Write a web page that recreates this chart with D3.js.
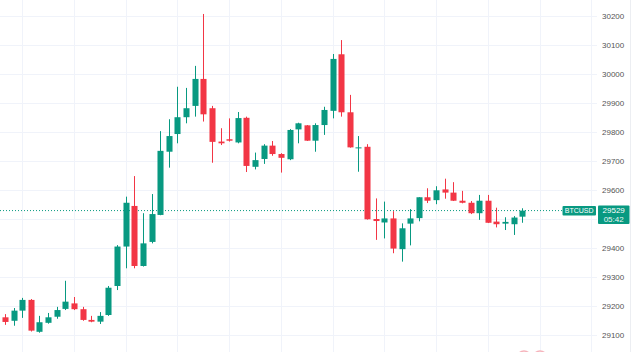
<!DOCTYPE html>
<html><head><meta charset="utf-8">
<script src="https://cdn.jsdelivr.net/npm/d3@7"></script>
<style>html,body{margin:0;padding:0;background:#fff;overflow:hidden}svg{display:block}</style>
</head><body>
<svg id="c" width="639" height="352"></svg>
<script>
const opens  = [29161,29149,29184,29221,29111,29142,29163,29190,29209,29189,29152,29146,29169,29269,29405,29545,29338,29421,29514,29732,29793,29851,29890,29983,29882,29767,29775,29764,29849,29680,29707,29753,29724,29706,29809,29823,29770,29824,29873,30068,29868,29744,29749,29500,29488,29502,29396,29484,29503,29575,29565,29602,29591,29563,29556,29520,29563,29491,29484,29482,29508];
const highs  = [29172,29193,29228,29224,29166,29176,29197,29287,29231,29197,29166,29179,29269,29410,29577,29648,29520,29586,29803,29844,29956,29952,30028,30207,29890,29813,29847,29869,29853,29729,29758,29769,29727,29810,29832,29824,29830,29887,30069,30117,29928,29786,29758,29571,29560,29527,29485,29534,29575,29606,29613,29639,29627,29597,29562,29583,29583,29539,29506,29510,29537];
const lows   = [29135,29132,29159,29112,29108,29139,29156,29186,29186,29149,29144,29138,29166,29255,29330,29330,29336,29416,29513,29677,29761,29830,29853,29836,29694,29755,29767,29761,29662,29671,29690,29718,29660,29703,29761,29769,29732,29790,29847,29853,29746,29663,29498,29428,29433,29382,29353,29409,29492,29555,29551,29570,29562,29554,29517,29497,29486,29471,29462,29445,29487];
const closes = [29145,29184,29221,29115,29144,29161,29186,29215,29189,29152,29146,29166,29263,29405,29556,29338,29416,29517,29735,29786,29851,29882,29983,29861,29766,29761,29770,29848,29683,29703,29753,29724,29711,29807,29830,29770,29824,29876,30052,29868,29747,29747,29499,29493,29502,29398,29468,29502,29575,29563,29599,29591,29563,29556,29520,29563,29487,29482,29490,29505,29529];
const priceTicks = [30200,30100,30000,29900,29800,29700,29600,29500,29400,29300,29200,29100];
const labelTicks = [30200,30100,30000,29900,29800,29700,29600,29400,29300,29200,29100];
const symbol = "BTCUSD";
const lastPrice = 29529;
const countdown = "05:42";

const UP = "#089981", DOWN = "#f23645";
const svg = d3.select("#c");
const n = opens.length;
const x = d3.scaleLinear().domain([0, n - 1]).range([5, 522.3]);
const y = d3.scaleLinear().domain([29100, 30200]).range([335, 16]);
const step = x(1) - x(0);
const bw = step * 0.7;

// grid
const gridIdx = d3.range(2, 70, 6);
svg.append("g").selectAll("line").data(gridIdx).join("line")
  .attr("x1", d => Math.round(x(d)) + 0.5).attr("x2", d => Math.round(x(d)) + 0.5)
  .attr("y1", 0).attr("y2", 352).attr("stroke", "#f0f3fa").attr("stroke-width", 1);
svg.append("g").selectAll("line").data(priceTicks).join("line")
  .attr("x1", 0).attr("x2", 597)
  .attr("y1", d => Math.round(y(d)) + 0.5).attr("y2", d => Math.round(y(d)) + 0.5)
  .attr("stroke", "#f0f3fa").attr("stroke-width", 1);
svg.append("line").attr("x1", 630.5).attr("x2", 630.5).attr("y1", 0).attr("y2", 352)
  .attr("stroke", "#eceef2");

// price line
svg.append("line").attr("x1", 0).attr("x2", 563).attr("y1", y(lastPrice)).attr("y2", y(lastPrice))
  .attr("stroke", UP).attr("stroke-width", 1).attr("stroke-dasharray", "1,2");

// candles
const data = d3.range(n).map(i => ({i, o: opens[i], h: highs[i], l: lows[i], c: closes[i]}));
const g = svg.append("g");
g.selectAll("line").data(data).join("line")
  .attr("x1", d => Math.round(x(d.i)) + 0.5).attr("x2", d => Math.round(x(d.i)) + 0.5)
  .attr("y1", d => y(d.h)).attr("y2", d => y(d.l))
  .attr("stroke", d => d.c >= d.o ? UP : DOWN).attr("stroke-width", 1);
g.selectAll("rect").data(data).join("rect")
  .attr("x", d => Math.round(x(d.i)) + 0.5 - bw / 2)
  .attr("width", bw)
  .attr("y", d => y(Math.max(d.o, d.c)))
  .attr("height", d => Math.max(1, Math.abs(y(d.o) - y(d.c))))
  .attr("fill", d => d.c >= d.o ? UP : DOWN);

// right axis
const axis = d3.axisRight(y).tickValues(labelTicks).tickSize(0).tickPadding(0).tickFormat(d3.format("d"));
const ag = svg.append("g").attr("transform", "translate(602,0)").call(axis);
ag.select(".domain").remove();
ag.selectAll("text").attr("fill", "#555").style("font-family", "Liberation Sans, Arial, sans-serif").style("font-size", "8px");

// labels
const ly = y(lastPrice);
svg.append("rect").attr("x", 562.5).attr("y", ly - 4.5).attr("width", 33.5).attr("height", 9.5).attr("fill", UP).attr("rx", 1);
svg.append("text").attr("x", 579.2).attr("y", ly + 2.8).attr("text-anchor", "middle")
  .attr("fill", "#fff").style("font-family", "Liberation Sans, Arial, sans-serif").style("font-size", "7px").text(symbol);
svg.append("rect").attr("x", 598).attr("y", ly - 5).attr("width", 31.5).attr("height", 18.5).attr("fill", UP).attr("rx", 1);
svg.append("text").attr("x", 613.7).attr("y", ly + 2.6).attr("text-anchor", "middle")
  .attr("fill", "#fff").style("font-family", "Liberation Sans, Arial, sans-serif").style("font-size", "8px").text(d3.format("d")(lastPrice));
svg.append("text").attr("x", 613.7).attr("y", ly + 11.2).attr("text-anchor", "middle")
  .attr("fill", "#e8f6f2").style("font-family", "Liberation Sans, Arial, sans-serif").style("font-size", "8px").text(countdown);

// faint logo at bottom
svg.append("circle").attr("cx", 524).attr("cy", 358).attr("r", 7).attr("fill", "none").attr("stroke", "#f6b3bb").attr("stroke-width", 1.5);
svg.append("circle").attr("cx", 540).attr("cy", 358).attr("r", 7).attr("fill", "none").attr("stroke", "#f6b3bb").attr("stroke-width", 1.5);
</script>
</body></html>
